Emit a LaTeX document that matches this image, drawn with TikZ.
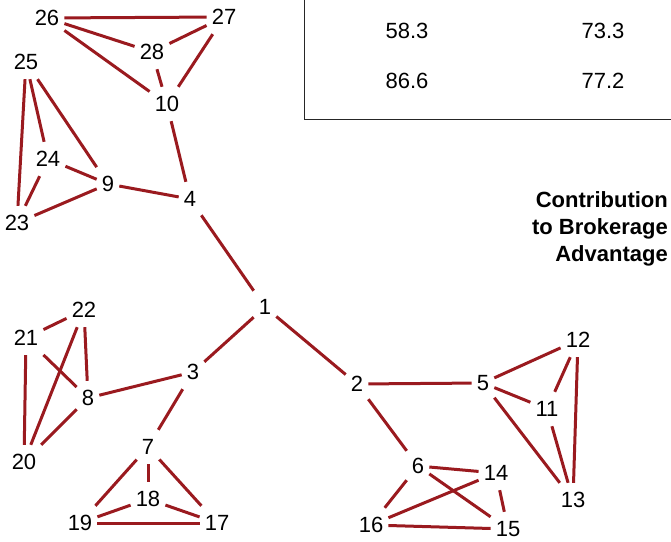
\documentclass[tikz,border=0pt]{standalone}
\usepackage{fontspec}
\setmainfont{Liberation Sans}
\definecolor{edgered}{HTML}{9A1A1F}
\begin{document}
\begin{tikzpicture}[x=1bp,y=-1bp,
  nd/.style={rectangle,inner xsep=5bp,inner ysep=0bp,minimum height=34bp,font=\fontsize{22bp}{26bp}\selectfont},
  ed/.style={draw=edgered,line width=3bp},
  val/.style={font=\fontsize{22bp}{26bp}\selectfont},
  caption/.style={font=\fontsize{22bp}{27bp}\selectfont\bfseries,align=right,anchor=north east,inner sep=0pt}]
\useasboundingbox (0,0) rectangle (671,542);
% table box
\draw[line width=1.6bp,draw=black!85] (304.5,-2) -- (304.5,119.5) -- (673,119.5);
\node[val] (v1) at (407,31) {58.3};
\node[val] (v2) at (603,31) {73.3};
\node[val] (v3) at (407,81) {86.6};
\node[val] (v4) at (603,81) {77.2};
\node[caption] (cap) at (668,191) {Contribution\\to Brokerage\\Advantage};
% nodes
\node[nd] (n1) at (265,307) {1};
\node[nd] (n2) at (357,384) {2};
\node[nd] (n3) at (193,372) {3};
\node[nd] (n4) at (190,199) {4};
\node[nd] (n5) at (483,383) {5};
\node[nd] (n6) at (418,466) {6};
\node[nd] (n7) at (148,447) {7};
\node[nd] (n8) at (88,398) {8};
\node[nd] (n9) at (108,184) {9};
\node[nd] (n10) at (167,104) {10};
\node[nd] (n11) at (547,409) {11};
\node[nd] (n12) at (578,340) {12};
\node[nd] (n13) at (573,500) {13};
\node[nd] (n14) at (496,473) {14};
\node[nd] (n15) at (508,529) {15};
\node[nd] (n16) at (371,525) {16};
\node[nd] (n17) at (217,523) {17};
\node[nd] (n18) at (148,499) {18};
\node[nd] (n19) at (80,523) {19};
\node[nd] (n20) at (24,462) {20};
\node[nd] (n21) at (26,338) {21};
\node[nd] (n22) at (84,310) {22};
\node[nd] (n23) at (17,223) {23};
\node[nd] (n24) at (48,159) {24};
\node[nd] (n25) at (26,62) {25};
\node[nd] (n26) at (47,18) {26};
\node[nd] (n27) at (224,17) {27};
\node[nd] (n28) at (152,52) {28};
% edges
\draw[ed] (n1) -- (n4);
\draw[ed] (n1) -- (n3);
\draw[ed] (n1) -- (n2);
\draw[ed] (n4) -- (n10);
\draw[ed] (n4) -- (n9);
\draw[ed] (n10) -- (n26);
\draw[ed] (n10) -- (n28);
\draw[ed] (n10) -- (n27);
\draw[ed] (n26) -- (n27);
\draw[ed] (n26) -- (n28);
\draw[ed] (n28) -- (n27);
\draw[ed] (n9) -- (n25);
\draw[ed] (n9) -- (n24);
\draw[ed] (n9) -- (n23);
\draw[ed] (n25) -- (n24);
\draw[ed] (n25) -- (n23);
\draw[ed] (n24) -- (n23);
\draw[ed] (n3) -- (n8);
\draw[ed] (n3) -- (n7);
\draw[ed] (n8) -- (n21);
\draw[ed] (n8) -- (n22);
\draw[ed] (n8) -- (n20);
\draw[ed] (n21) -- (n20);
\draw[ed] (n21) -- (n22);
\draw[ed] (n22) -- (n20);
\draw[ed] (n7) -- (n19);
\draw[ed] (n7) -- (n18);
\draw[ed] (n7) -- (n17);
\draw[ed] (n18) -- (n19);
\draw[ed] (n18) -- (n17);
\draw[ed] (n19) -- (n17);
\draw[ed] (n2) -- (n5);
\draw[ed] (n2) -- (n6);
\draw[ed] (n5) -- (n12);
\draw[ed] (n5) -- (n11);
\draw[ed] (n5) -- (n13);
\draw[ed] (n11) -- (n12);
\draw[ed] (n11) -- (n13);
\draw[ed] (n12) -- (n13);
\draw[ed] (n6) -- (n14);
\draw[ed] (n6) -- (n15);
\draw[ed] (n6) -- (n16);
\draw[ed] (n14) -- (n15);
\draw[ed] (n14) -- (n16);
\draw[ed] (n16) -- (n15);
\end{tikzpicture}
\end{document}
